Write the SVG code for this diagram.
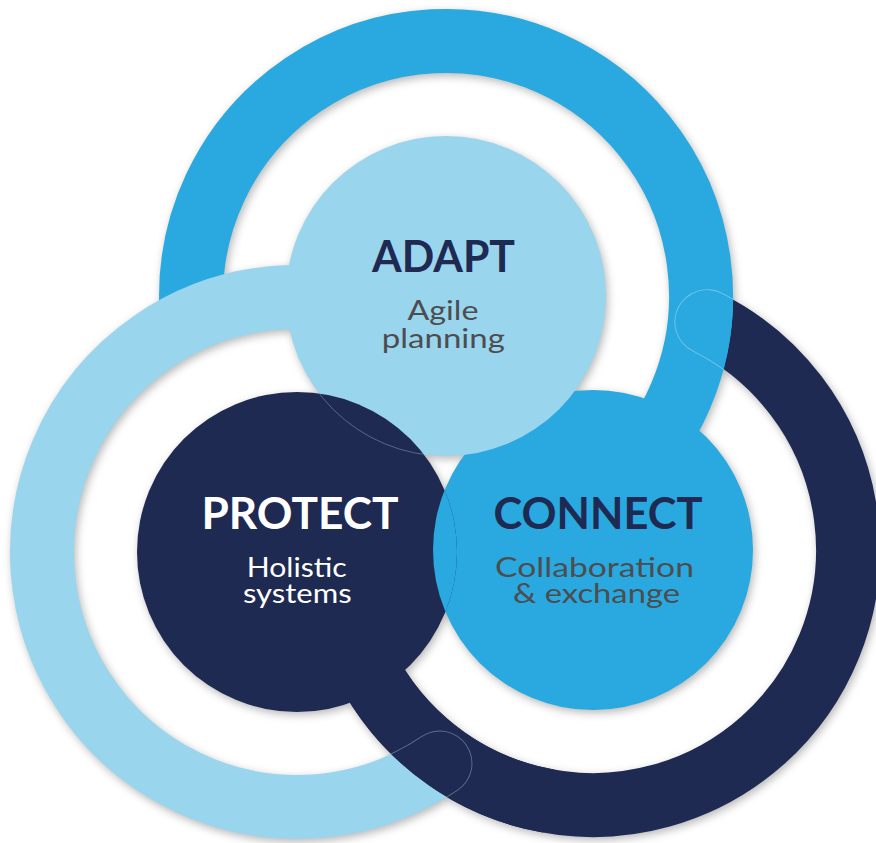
<svg xmlns="http://www.w3.org/2000/svg" width="876" height="843" viewBox="0 0 876 843">
<style>
.ring{fill:none;stroke-width:64}
.title{font-family:Lato,"Liberation Sans",sans-serif;font-weight:700;font-size:44px;text-anchor:middle}
.sub{font-family:Lato,"Liberation Sans",sans-serif;font-weight:400;font-size:26px;text-anchor:middle}
.ghost{fill:none;stroke-width:0.9}
</style>
<defs>
<filter id="sh" x="-10%" y="-10%" width="120%" height="120%">
<feGaussianBlur in="SourceAlpha" stdDeviation="4"/>
<feOffset dx="2" dy="3" result="b"/>
<feFlood flood-color="#000" flood-opacity="0.28"/>
<feComposite in2="b" operator="in"/>
</filter>
<mask id="mBlue" maskUnits="userSpaceOnUse" x="0" y="0" width="876" height="843">
<path d="M191.2,304.9 A255,255 0 1 1 609.9,491.3" fill="none" stroke="#fff" stroke-width="64"/>
</mask>
<mask id="mNavy" maskUnits="userSpaceOnUse" x="0" y="0" width="876" height="843">
<path d="M548.7,801.1 A255,255 0 0 1 372.2,677.5" fill="none" stroke="#fff" stroke-width="64"/>
</mask>
<clipPath id="clipP"><circle cx="297" cy="552" r="160"/></clipPath>
</defs>
<rect width="876" height="843" fill="#fff"/>
<g id="shadow" filter="url(#sh)">
<use href="#rings"/>
<use href="#cA"/>
<use href="#cP"/>
<use href="#cC"/>
</g>
<g id="rings">
<path id="ring-connect" class="ring" d="M707.2,322 A255,255 0 1 1 353.4,637.2" stroke="#1F2A52" stroke-linecap="round"/>
<path id="ring-adapt" class="ring" d="M191.2,304.9 A255,255 0 1 1 609.9,491.3" stroke="#29A9DF"/>
<g mask="url(#mBlue)">
<path d="M707.2,322 A255,255 0 1 1 353.4,637.2" fill="none" stroke="#74c6ec" stroke-width="65.6" stroke-linecap="round"/>
<path d="M707.2,322 A255,255 0 1 1 353.4,637.2" fill="none" stroke="#29A9DF" stroke-width="63.8" stroke-linecap="round"/>
</g>
<path id="ring-protect" class="ring" d="M404.8,320.9 A255,255 0 1 0 439.6,763.4" stroke="#9AD5EE" stroke-linecap="round"/>
<path class="ring" d="M548.7,801.1 A255,255 0 0 1 372.2,677.5" stroke="#1F2A52"/>
<g mask="url(#mNavy)">
<path d="M404.8,320.9 A255,255 0 1 0 439.6,763.4" fill="none" stroke="#5f6d93" stroke-width="65.6" stroke-linecap="round"/>
<path d="M404.8,320.9 A255,255 0 1 0 439.6,763.4" fill="none" stroke="#1F2A52" stroke-width="63.8" stroke-linecap="round"/>
</g>
</g>
<g id="connect">
<circle id="cC" cx="593" cy="550" r="160" fill="#29A9DF"/>
<text class="title" x="598" y="529.3" fill="#1F2A52" textLength="209" lengthAdjust="spacingAndGlyphs">CONNECT</text>
<text class="sub" x="594.5" y="577" fill="#4D4D4F" textLength="199" lengthAdjust="spacingAndGlyphs">Collaboration</text>
<text class="sub" x="596.5" y="603" fill="#4D4D4F" textLength="167" lengthAdjust="spacingAndGlyphs">&amp; exchange</text>
</g>
<g id="adapt">
<circle id="cA" cx="446" cy="296" r="160" fill="#9AD5EE"/>
<text class="title" x="443.5" y="272" fill="#1F2A52" textLength="143" lengthAdjust="spacingAndGlyphs">ADAPT</text>
<text class="sub" x="443" y="320" fill="#4D4D4F" textLength="71" lengthAdjust="spacingAndGlyphs">Agile</text>
<text class="sub" x="443.3" y="348" fill="#4D4D4F" textLength="123" lengthAdjust="spacingAndGlyphs">planning</text>
</g>
<g id="protect">
<circle id="cP" cx="297" cy="552" r="160" fill="#1F2A52"/>
<circle class="ghost" cx="446" cy="296" r="160" stroke="#5f6d93" clip-path="url(#clipP)"/>
<text class="title" x="300" y="529.3" fill="#FFFFFF" textLength="197" lengthAdjust="spacingAndGlyphs">PROTECT</text>
<text class="sub" x="296.7" y="577" fill="#FFFFFF" textLength="100" lengthAdjust="spacingAndGlyphs">Holistic</text>
<text class="sub" x="297.3" y="603" fill="#FFFFFF" textLength="108.7" lengthAdjust="spacingAndGlyphs">systems</text>
</g>
<g id="connect-over-protect">
<circle cx="593" cy="550" r="160" fill="#29A9DF" clip-path="url(#clipP)"/>
</g>
</svg>
